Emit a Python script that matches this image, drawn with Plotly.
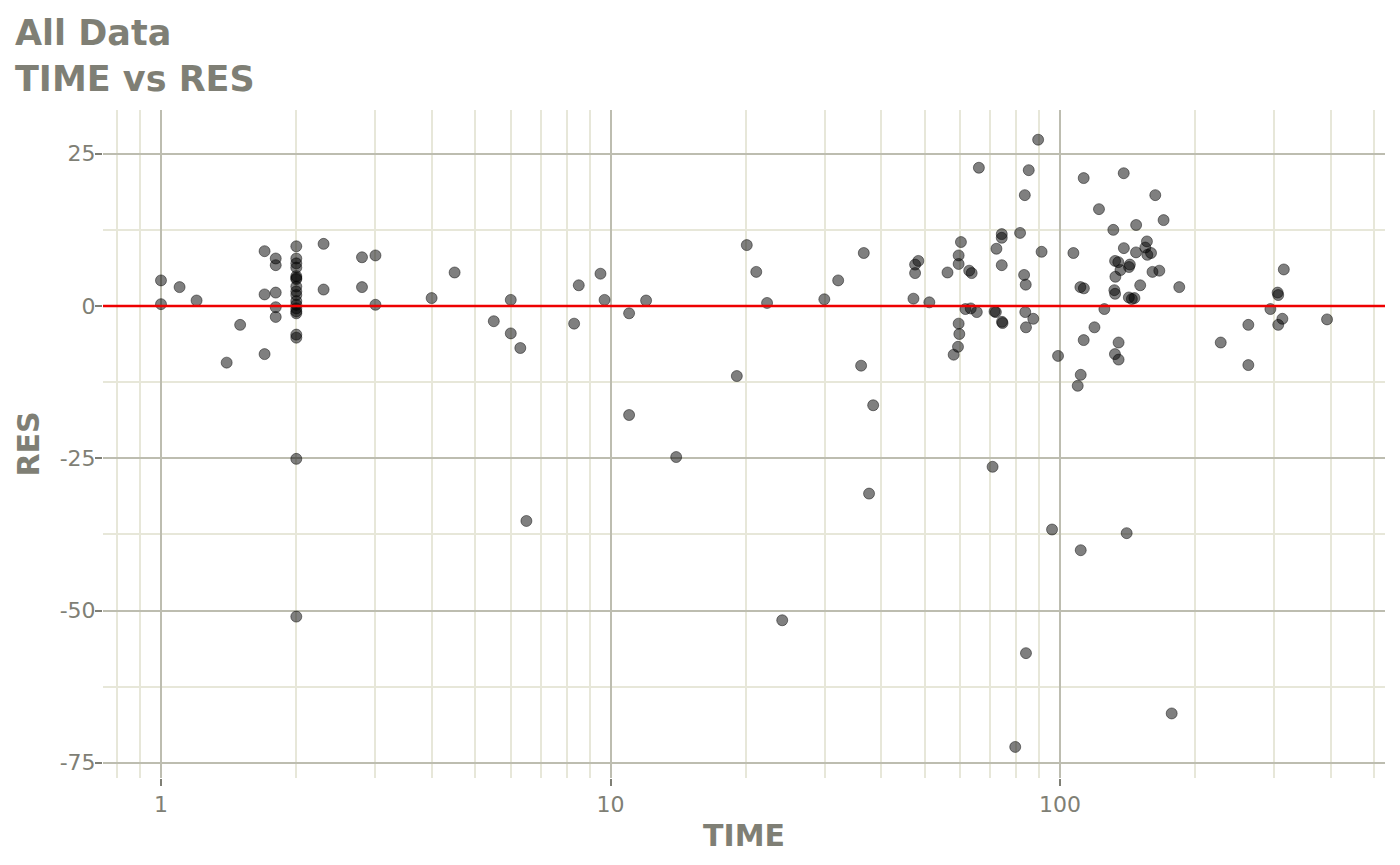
import plotly.graph_objects as go

# TIME vs RES residuals
time = [
    1.0, 1.0, 1.1, 1.2, 1.4, 1.5, 1.7, 1.7, 1.7, 1.8, 1.8, 1.8, 1.8, 1.8,
    2, 2, 2, 2, 2, 2, 2, 2, 2, 2, 2, 2, 2, 2, 2, 2, 2, 2, 2,
    2.3, 2.3, 2.8, 2.8, 3.0, 3.0, 4.0, 4.5, 5.5, 6.0, 6.0, 6.3, 6.5,
    8.3, 8.5, 9.5, 9.7, 11.0, 11.0, 12.0, 14.0, 19.1, 20.1, 21.1, 22.3, 24.1,
    29.9, 32.1, 36.1, 36.6, 37.6, 38.4, 47.2, 47.6, 48.4, 47.6, 51.2, 56.2,
    58.0, 59.3, 59.5, 59.7, 59.5, 59.5, 60.2, 61.6, 62.8, 63.3, 63.6, 65.3,
    66.0, 70.8, 71.5, 72.0, 72.2, 74.2, 74.2, 74.2, 74.3, 74.5, 79.5, 81.5,
    83.2, 83.5, 83.7, 83.9, 84.0, 84.0, 85.2, 87.2, 89.4, 91.0, 96.0, 99.0,
    107.1, 109.5, 111.2, 111.2, 111.0, 113.0, 112.9, 112.9, 119.3, 122.1, 125.5,
    131.4, 132.1, 132.6, 132.6, 132.8, 132.5, 134.8, 135.0, 135.0, 136.3, 138.7,
    138.6, 140.7, 142.3, 142.4, 143.0, 144.5, 146.4, 147.6, 147.7, 150.8, 154.8,
    156.1, 156.4, 159.4, 160.6, 162.9, 166.3, 170.0, 177.2, 184.2, 227.8,
    262.4, 262.4, 293.8, 304.9, 305.8, 305.8, 312.4, 314.7, 392.7,
]
res = [
    4.2, 0.3, 3.1, 0.9, -9.3, -3.1, 9.0, 1.9, -7.9, 7.8, 6.7, 2.2, -0.2, -1.8,
    9.8, 7.8, 7.0, 6.3, 4.9, 4.6, 4.4, 3.2, 2.4, 1.8, 0.8, 0.2, -0.4, -0.9, -1.2, -4.7, -5.2, -25.1, -51.0,
    10.2, 2.7, 8.0, 3.1, 8.3, 0.2, 1.3, 5.5, -2.5, 1.0, -4.5, -6.9, -35.3,
    -2.9, 3.4, 5.3, 1.0, -1.2, -17.9, 0.9, -24.8, -11.5, 10.0, 5.6, 0.5, -51.6,
    1.1, 4.2, -9.8, 8.7, -30.8, -16.3, 1.2, 6.8, 7.4, 5.4, 0.6, 5.5,
    -8.0, -6.7, -2.9, -4.6, 8.3, 6.9, 10.5, -0.5, 5.8, -0.4, 5.4, -1.0,
    22.7, -26.4, -0.9, -1.0, 9.4, 11.8, 11.2, 6.7, -2.6, -2.8, -72.4, 12.0,
    5.1, 18.2, -1.0, 3.5, -3.5, -57.0, 22.3, -2.1, 27.3, 8.9, -36.7, -8.2,
    8.7, -13.1, -11.3, -40.1, 3.1, 2.9, 21.0, -5.6, -3.5, 15.9, -0.5,
    12.5, 2.6, 2.0, 7.4, 4.8, -7.9, 7.2, -6.0, -8.8, 5.9, 9.5,
    21.8, -37.3, 1.4, 6.4, 6.8, 1.15, 1.3, 8.8, 13.3, 3.4, 9.6,
    10.6, 8.4, 8.7, 5.6, 18.2, 5.8, 14.1, -66.9, 3.1, -6.0,
    -3.1, -9.7, -0.5, 2.2, 1.8, -3.1, -2.1, 6.0, -2.2,
]

x_major = [1, 10, 100]
x_minor = [0.8, 0.9, 2, 3, 4, 5, 6, 7, 8, 9, 20, 30, 40, 50, 60, 70, 80, 90,
           200, 300, 400, 500]
y_major = [-75, -50, -25, 0, 25]
y_minor = [-62.5, -37.5, -12.5, 12.5]

grey = "#7F7F75"
major_grid = "#BDBDB0"
minor_grid = "#E7E7D9"

fig = go.Figure()
fig.add_trace(go.Scatter(
    x=time, y=res,
    mode="markers",
    marker=dict(size=11, color="rgba(0,0,0,0.5)",
                line=dict(color="rgba(0,0,0,0.45)", width=1)),
    showlegend=False,
))
fig.add_hline(y=0, line=dict(color="#EE0000", width=2.4))

axis_common = dict(
    showgrid=True, gridcolor=major_grid, gridwidth=2,
    zeroline=False, showline=False,
    ticks="outside", ticklen=7, tickwidth=2, tickcolor=grey,
    tickfont=dict(family="DejaVu Sans", size=22, color=grey),
)

fig.update_xaxes(
    type="log", range=[-0.129, 2.723],
    tickvals=x_major, ticktext=[str(v) for v in x_major],
    minor=dict(tickvals=x_minor, showgrid=True, gridcolor=minor_grid,
               gridwidth=2, ticks=""),
    title=dict(text="TIME", standoff=8,
               font=dict(family="DejaVu Sans", size=30, color=grey, weight="bold")),
    **axis_common,
)
fig.update_yaxes(
    range=[-77.5, 32.18],
    tickvals=y_major, ticktext=[str(v) for v in y_major],
    ticklabelstandoff=-5,
    minor=dict(tickvals=y_minor, showgrid=True, gridcolor=minor_grid,
               gridwidth=2, ticks=""),
    title=dict(text="RES", standoff=11,
               font=dict(family="DejaVu Sans", size=30, color=grey, weight="bold")),
    **axis_common,
)

# the page body adds 8px around the figure, so size and margins allow for it
fig.update_layout(
    width=1392, height=857,
    margin=dict(l=95, r=15, t=102, b=87),
    plot_bgcolor="white", paper_bgcolor="white",
    title=dict(text="All Data<br>TIME vs RES",
               x=7 / 1392, xref="container", xanchor="left",
               y=1 - 37 / 857, yref="container", yanchor="top",
               font=dict(family="DejaVu Sans", size=35, color=grey, weight="bold")),
)

fig.write_html("out.html")
